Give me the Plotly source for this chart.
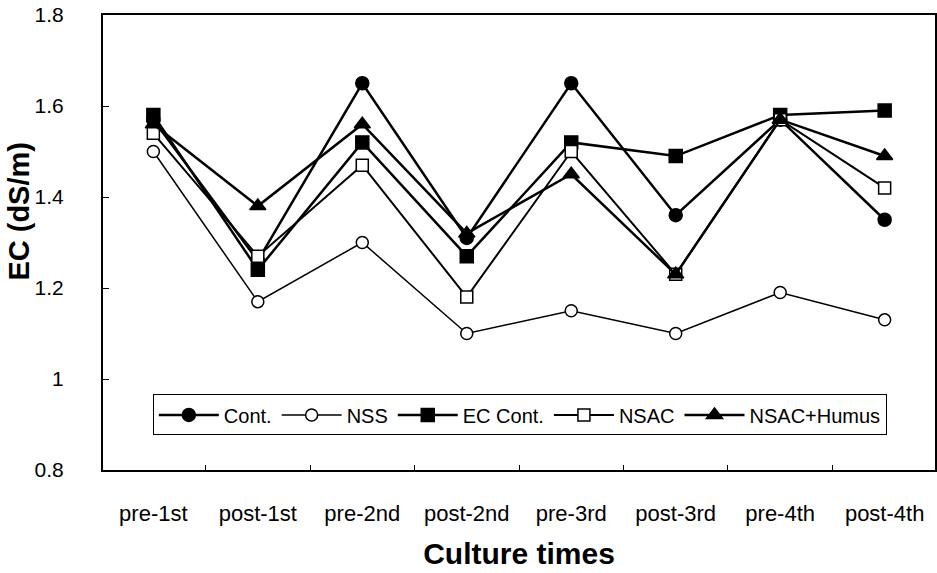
import plotly.graph_objects as go

categories = ["pre-1st", "post-1st", "pre-2nd", "post-2nd", "pre-3rd", "post-3rd", "pre-4th", "post-4th"]
cont = [1.57, 1.26, 1.65, 1.31, 1.65, 1.36, 1.57, 1.35]
nss = [1.50, 1.17, 1.30, 1.10, 1.15, 1.10, 1.19, 1.13]
ec_cont = [1.58, 1.24, 1.52, 1.27, 1.52, 1.49, 1.58, 1.59]
nsac = [1.54, 1.27, 1.47, 1.18, 1.50, 1.23, 1.57, 1.42]
nsac_humus = [1.56, 1.38, 1.56, 1.32, 1.45, 1.23, 1.57, 1.49]

series = [
    ("Cont.", cont, "circle", "black", 2.5, 13),
    ("NSS", nss, "circle", "white", 1.5, 12),
    ("EC Cont.", ec_cont, "square", "black", 2.5, 13),
    ("NSAC", nsac, "square", "white", 2.0, 12),
    ("NSAC+Humus", nsac_humus, "triangle-up", "black", 2.5, 14),
]

fig = go.Figure()
for name, vals, sym, fill, lw, ms in series:
    fig.add_trace(go.Scatter(
        x=categories, y=vals, name=name, mode="lines+markers",
        line=dict(color="black", width=lw),
        marker=dict(symbol=sym, size=ms, color=fill, line=dict(color="black", width=1.5)),
    ))

fig.add_annotation(
    text="<b>EC (dS/m)</b>", xref="paper", yref="paper",
    x=-0.101, y=0.57, xanchor="center", yanchor="middle",
    textangle=-90, showarrow=False, font=dict(size=29),
)

fig.update_layout(
    width=937, height=573,
    margin=dict(l=103, r=2, t=15, b=103),
    paper_bgcolor="white", plot_bgcolor="white",
    font=dict(family="Liberation Sans, Arial, sans-serif", color="black", size=20),
    showlegend=True,
    legend=dict(
        orientation="h", x=0.501, y=0.121, xanchor="center", yanchor="middle",
        bordercolor="black", borderwidth=1, bgcolor="white",
        font=dict(size=20), itemwidth=60,
    ),
    xaxis=dict(
        title=dict(text="<b>Culture times</b>", font=dict(size=30), standoff=18),
        showline=True, linecolor="black", linewidth=2, mirror=True,
        ticks="inside", tickson="boundaries", ticklen=5, tickcolor="black",
        showgrid=False, tickfont=dict(size=22), ticklabelstandoff=23,
        automargin=False,
    ),
    yaxis=dict(
        range=[0.8, 1.8], dtick=0.2,
        showline=True, linecolor="black", linewidth=2, mirror=True,
        ticks="inside", ticklen=6, tickcolor="black",
        showgrid=False, zeroline=False, tickfont=dict(size=21), ticklabelstandoff=33,
        ticklabeloverflow="allow", automargin=False,
    ),
)

fig.write_html(
    "out.html",
    config={"displayModeBar": False},
    post_script="document.body.style.margin='0px';",
)
